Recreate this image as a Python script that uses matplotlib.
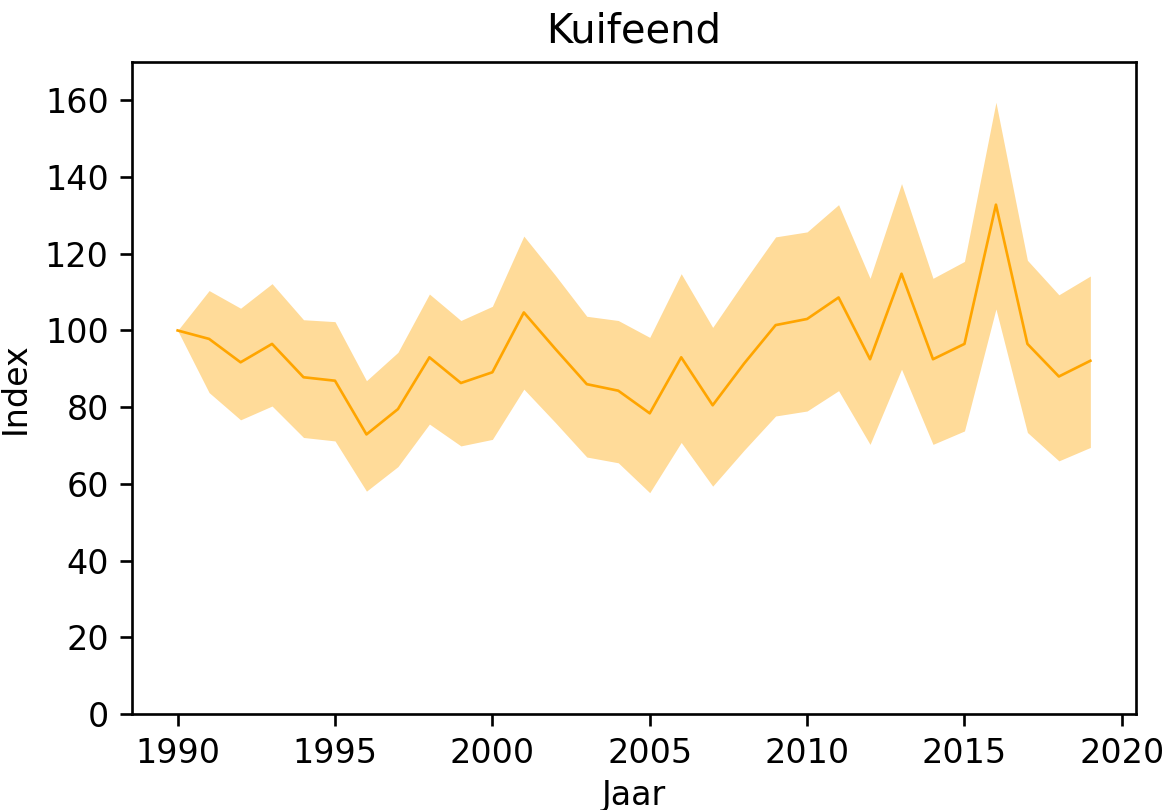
import matplotlib
matplotlib.use("Agg")
import matplotlib.pyplot as plt

years = list(range(1990, 2020))
index = [100.0, 97.8, 91.7, 96.5, 87.8, 86.9, 72.9, 79.5, 93.0, 86.3,
         89.1, 104.7, 95.2, 86.0, 84.3, 78.4, 93.0, 80.5, 91.4, 101.4,
         103.0, 108.6, 92.5, 114.8, 92.5, 96.5, 132.8, 96.5, 88.0, 92.1]
upper = [100.0, 110.4, 105.8, 112.2, 102.8, 102.3, 86.9, 94.3, 109.5, 102.6,
         106.3, 124.6, 114.4, 103.7, 102.6, 98.2, 114.8, 100.8, 112.8, 124.4,
         125.7, 132.8, 113.6, 138.3, 113.6, 118.0, 159.5, 118.3, 109.3, 114.2]
lower = [100.0, 83.8, 76.7, 80.3, 72.1, 71.2, 58.1, 64.5, 75.6, 69.9,
         71.6, 84.7, 76.0, 67.0, 65.5, 57.7, 70.8, 59.4, 68.8, 77.7,
         79.0, 84.3, 70.3, 89.9, 70.3, 73.8, 105.6, 73.4, 66.0, 69.5]

fig = plt.figure(figsize=(1165 / 240, 810 / 240), dpi=240)
ax = fig.add_axes([132 / 1165, 1 - 714 / 810, (1136 - 132) / 1165, (714 - 62) / 810])
ax.fill_between(years, lower, upper, color="orange", alpha=0.4, linewidth=0)
ax.plot(years, index, color="orange", linewidth=0.8)
ax.set_ylim(0, 170)
ax.set_title("Kuifeend")
ax.set_xlabel("Jaar", labelpad=2.5)
ax.set_ylabel("Index")
fig.savefig("out.png", dpi=240)
